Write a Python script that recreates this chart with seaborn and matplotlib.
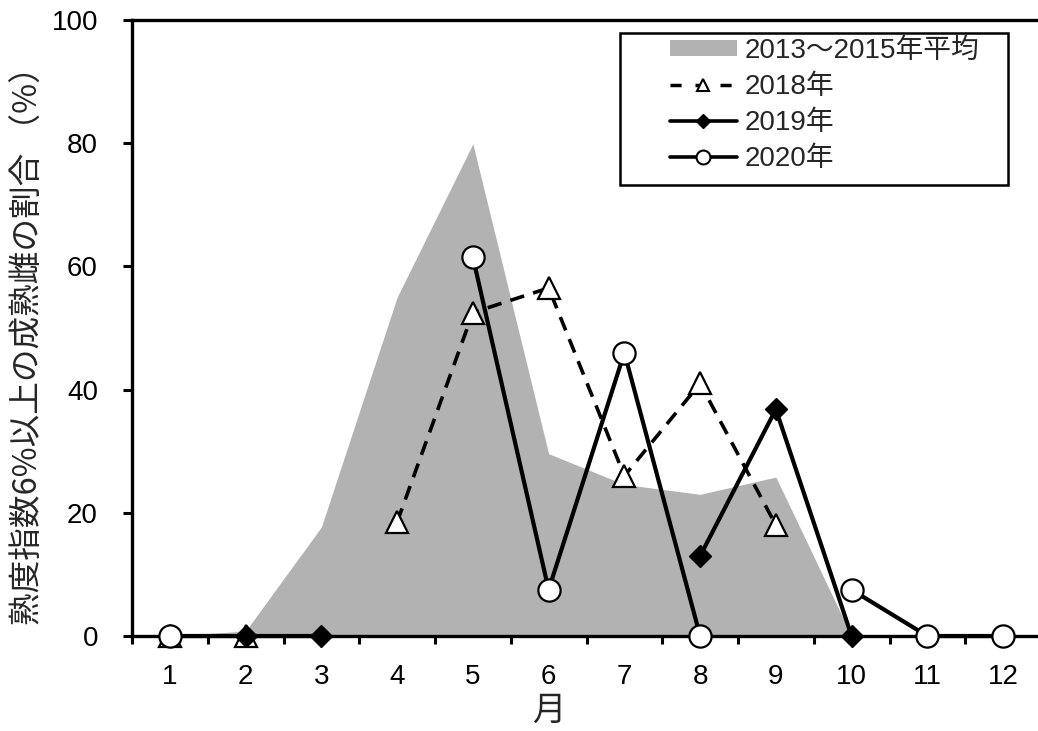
import numpy as np
import pandas as pd
import matplotlib
matplotlib.use("Agg")
import matplotlib.pyplot as plt
from matplotlib.lines import Line2D
from matplotlib.patches import Patch, Rectangle
from matplotlib.font_manager import FontProperties
import seaborn as sns

# ---- data -----------------------------------------------------------------
months = list(range(1, 13))
avg_2013_2015 = [0, 0.8, 17.7, 55.0, 79.9, 29.6, 24.6, 23.0, 25.8, 0, 0, 0]
rate_2018 = [0, 0, np.nan, 18.5, 52.5, 56.5, 26.0, 41.0, 18.0, np.nan, np.nan, np.nan]
rate_2019 = [0, 0, 0, np.nan, np.nan, np.nan, np.nan, 13.0, 36.8, 0, np.nan, np.nan]
rate_2020 = [0, np.nan, np.nan, np.nan, 61.5, 7.5, 46.0, 0, np.nan, 7.5, 0, 0]
series_labels = ["2013～2015年平均", "2018年", "2019年", "2020年"]
y_ticks = [0, 20, 40, 60, 80, 100]
x_label = "月"
y_label = "熟度指数6%以上の成熟雌の割合 （%）"

# ---- style ----------------------------------------------------------------
sns.set_theme(style="white")
plt.rcParams["font.family"] = ["Liberation Sans", "Noto Sans CJK JP", "DejaVu Sans"]
plt.rcParams["axes.unicode_minus"] = False

W, H = 1038, 731
fig = plt.figure(figsize=(W / 100, H / 100), dpi=100)
ax = fig.add_axes([132 / W, 95 / H, 909 / W, 616 / H])

grey = "#b2b2b2"


def to_segments(values):
    """Long table of one series, split into runs that break at missing months."""
    rows, seg, prev_nan = [], 0, True
    for m, v in zip(months, values):
        if np.isnan(v):
            prev_nan = True
            continue
        if prev_nan:
            seg += 1
            prev_nan = False
        rows.append({"month": m, "value": v, "seg": seg})
    return pd.DataFrame(rows)


# shaded 3-year average
ax.fill_between(months, avg_2013_2015, 0, color=grey, lw=0, zorder=1)

line_kw = dict(x="month", y="value", units="seg", estimator=None, sort=False,
               color="black", legend=False, ax=ax, clip_on=False)

sns.lineplot(data=to_segments(rate_2018), linestyle=(0, (4, 2.6)), lw=2.6,
             marker="^", markersize=15.5, markerfacecolor="white",
             markeredgecolor="black", markeredgewidth=1.6, zorder=3, **line_kw)
sns.lineplot(data=to_segments(rate_2019), lw=3.0,
             marker="D", markersize=11.5, markerfacecolor="black",
             markeredgecolor="black", markeredgewidth=1.0, zorder=4, **line_kw)
sns.lineplot(data=to_segments(rate_2020), lw=3.0,
             marker="o", markersize=16, markerfacecolor="white",
             markeredgecolor="black", markeredgewidth=1.6, zorder=5, **line_kw)

# ---- axes -----------------------------------------------------------------
ax.set_xlim(0.5, 12.5)
ax.set_ylim(0, 100)
ax.set_xticks(months)
ax.set_xticks([m + 0.5 for m in [0] + months], minor=True)
ax.set_yticks(y_ticks)
tick_font = FontProperties(family=["Liberation Sans", "DejaVu Sans"], size=20)
ax.set_xticklabels([str(m) for m in months], fontproperties=tick_font)
ax.set_yticklabels([str(v) for v in y_ticks], fontproperties=tick_font)
ax.tick_params(axis="x", which="major", length=0, pad=20, colors="black")
ax.tick_params(axis="x", which="minor", bottom=True, direction="out",
               length=6, width=2.2, color="black")
ax.tick_params(axis="y", which="major", left=True, direction="out",
               length=6.5, width=2.2, pad=18, colors="black")

for side in ["left", "bottom", "top"]:
    ax.spines[side].set_visible(True)
    ax.spines[side].set_color("black")
    ax.spines[side].set_linewidth(2.4)
    ax.spines[side].set_zorder(2.5)
ax.spines["right"].set_visible(False)

label_font = FontProperties(family=["Noto Sans CJK JP", "DejaVu Sans"], size=23.5)
ax.set_xlabel(x_label, fontproperties=FontProperties(family=["Noto Sans CJK JP"], size=24))
ax.set_ylabel(y_label, fontproperties=label_font)
ax.xaxis.set_label_coords((549 - 132) / 909, -(693 - 636) / 616)
ax.yaxis.set_label_coords(-(132 - 45) / 909, 0.485)

# ---- legend ---------------------------------------------------------------
handles = [
    Patch(facecolor=grey, edgecolor="none"),
    Line2D([], [], color="black", lw=2.5, linestyle=(0, (3.2, 4.0)), marker="^",
           markersize=9, markerfacecolor="white", markeredgecolor="black",
           markeredgewidth=1.5),
    Line2D([], [], color="black", lw=2.6, marker="D", markersize=7.5,
           markerfacecolor="black", markeredgecolor="black"),
    Line2D([], [], color="black", lw=2.6, marker="o", markersize=10,
           markerfacecolor="white", markeredgecolor="black", markeredgewidth=1.5),
]
legend_font = FontProperties(family=["Liberation Sans", "Noto Sans CJK JP"], size=20)
ax.add_patch(Rectangle((620 / W, 1 - 185 / H), (1008 - 620) / W, (185 - 33) / H,
                       transform=fig.transFigure, facecolor="white",
                       edgecolor="black", lw=1.8, zorder=6, clip_on=False))
leg = ax.legend(handles=handles, labels=series_labels, prop=legend_font,
                loc="upper left", bbox_to_anchor=(670 / W, 1 - 38 / H),
                bbox_transform=fig.transFigure, frameon=False, borderpad=0,
                handlelength=2.4, handleheight=0.5, handletextpad=0.3,
                labelspacing=0.36, borderaxespad=0)
leg.set_zorder(7)

fig.savefig("out.png", dpi=100, facecolor="white")
